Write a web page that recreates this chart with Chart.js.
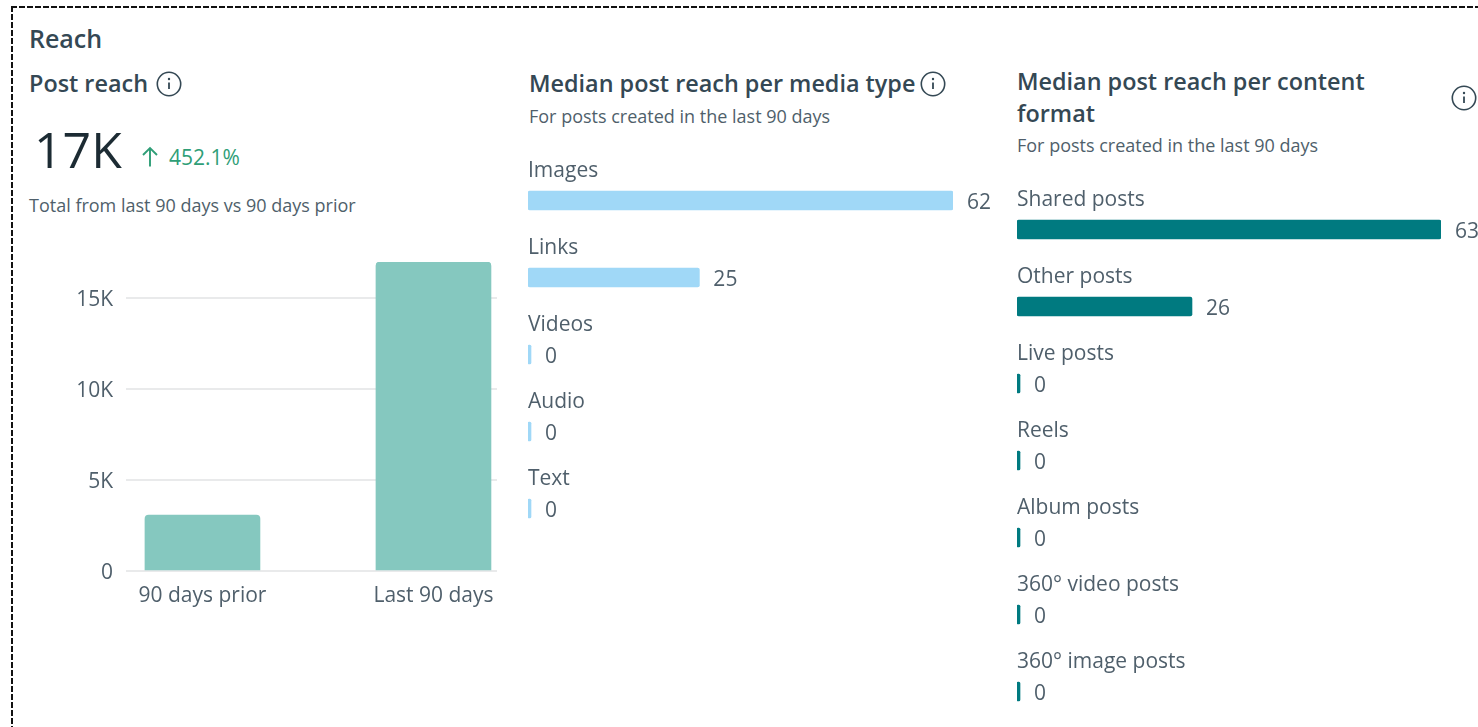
<!DOCTYPE html>
<html><head><meta charset="utf-8">
<script src="https://cdn.jsdelivr.net/npm/chart.js@4"></script>
<style>
html,body{margin:0;padding:0;background:#fff;width:1478px;height:727px;overflow:hidden;font-family:"Open Sans",sans-serif;color:#1c2b33}
#ft{position:absolute;left:11px;top:6px;width:1467px;height:2px;background:repeating-linear-gradient(90deg,#111 0 6px,transparent 6px 8px)}
#fl{position:absolute;left:11px;top:6px;width:2px;height:721px;background:repeating-linear-gradient(180deg,#111 0 6px,transparent 6px 8px)}
.t{position:absolute;white-space:nowrap;line-height:1}
.h{font-size:25px;font-weight:600;color:#344854}
.h2{font-size:23.4px;font-weight:600;color:#344854}
.s{font-size:18px;color:#4f5f6b}
svg.i{position:absolute;width:26px;height:26px}
svg.a{position:absolute}
.c{position:absolute}
</style></head><body>
<div id="ft"></div><div id="fl"></div>
<svg width="0" height="0" style="position:absolute"><defs><g id="info" fill="none" stroke="#344854"><circle cx="13" cy="13" r="11.7" stroke-width="1.6"/><path d="M13 11.5v6.5" stroke-width="1.8"/><circle cx="13" cy="8" r="1.2" fill="#344854" stroke="none"/></g></defs></svg>
<div class="t h" style="left:29px;top:26px">Reach</div>
<div class="t h2" style="left:29px;top:72px">Post reach</div>
<svg class="i" style="left:156px;top:71px"><use href="#info"/></svg>
<div class="t" style="left:34px;top:124px;font-size:50px;color:#1c2b33">17K</div>
<svg class="a" style="left:139px;top:144px" width="22" height="24" fill="none" stroke="#2f9e77" stroke-width="1.9"><path d="M11 22.5V4M4 11l7-7 7 7"/></svg>
<div class="t" style="left:169px;top:147px;font-size:21px;color:#2f9e77">452.1%</div>
<div class="t s" style="left:29px;top:196px">Total from last 90 days vs 90 days prior</div>
<div class="t h2" style="left:529px;top:72px">Median post reach per media type</div>
<svg class="i" style="left:920px;top:71px"><use href="#info"/></svg>
<div class="t s" style="left:529px;top:107px">For posts created in the last 90 days</div>
<div class="t h2" style="left:1017px;top:70px">Median post reach per content</div>
<div class="t h2" style="left:1017px;top:102px">format</div>
<svg class="i" style="left:1451px;top:85px"><use href="#info"/></svg>
<div class="t s" style="left:1017px;top:136px">For posts created in the last 90 days</div>

<div class="c" style="left:60px;top:250px;width:450px;height:370px"><canvas id="c1"></canvas></div>
<div class="c" style="left:520px;top:142px;width:480px;height:405px"><canvas id="c2"></canvas></div>
<div class="c" style="left:1009px;top:171px;width:469px;height:559px"><canvas id="c3"></canvas></div>
<script>
const periodLabels = ["90 days prior", "Last 90 days"];
const periodValues = [3079, 17000];
const yTicks = [0, 5000, 10000, 15000];
const mediaLabels = ["Images", "Links", "Videos", "Audio", "Text"];
const mediaValues = [62, 25, 0, 0, 0];
const formatLabels = ["Shared posts", "Other posts", "Live posts", "Reels", "Album posts", "360° video posts", "360° image posts"];
const formatValues = [63, 26, 0, 0, 0, 0, 0];

const FONT = '"Open Sans", sans-serif';
const TEXT = '#4f5f6b';
Chart.defaults.animation = false;
Chart.defaults.responsive = true;
Chart.defaults.maintainAspectRatio = false;
Chart.defaults.font.family = FONT;
Chart.defaults.plugins.legend.display = false;
Chart.defaults.plugins.tooltip.enabled = false;

const noPad = s => { s.paddingTop = 0; s.paddingBottom = 0; s.paddingLeft = 0; s.paddingRight = 0; };

new Chart(document.getElementById('c1'), {
  type: 'bar',
  data: { datasets: [{
    data: periodValues.map((v, i) => ({ x: i, y: v })),
    backgroundColor: '#85c8bf',
    borderRadius: { topLeft: 4, topRight: 4 },
    borderSkipped: 'bottom',
    barThickness: 115
  }]},
  options: {
    layout: { padding: { top: 12, right: 13, left: 0, bottom: 0 } },
    scales: {
      x: {
        type: 'linear', offset: false, min: -0.331, max: 1.275,
        afterBuildTicks: s => { s.ticks = periodLabels.map((_, i) => ({ value: i })); },
        afterFit: s => { s.height = 49; noPad(s); },
        grid: { display: false },
        border: { display: false },
        ticks: { autoSkip: false, maxRotation: 0, padding: 4, color: TEXT, font: { size: 21 },
                 callback: v => periodLabels[v] }
      },
      y: {
        min: 0, max: 17000,
        afterBuildTicks: s => { s.ticks = yTicks.map(v => ({ value: v })); },
        afterFit: s => { s.width = 66; noPad(s); },
        grid: { color: '#e9eaeb', lineWidth: 2, drawTicks: false },
        border: { display: false },
        ticks: { padding: 13, labelOffset: 2, color: TEXT, font: { size: 21 },
                 callback: v => v === 0 ? '0' : (v / 1000) + 'K' }
      }
    }
  }
});

const valueLabels = {
  id: 'valueLabels',
  afterDatasetsDraw(chart) {
    const ctx = chart.ctx, meta = chart.getDatasetMeta(0), ds = chart.data.datasets[0];
    ctx.save();
    ctx.font = '21px ' + FONT;
    ctx.fillStyle = TEXT;
    ctx.textAlign = 'left';
    ctx.textBaseline = 'middle';
    meta.data.forEach((b, i) => ctx.fillText(String(ds.data[i]), b.x + 14, b.y + 3));
    ctx.restore();
  }
};

function hbar(id, labels, values, color, maxV, padRight) {
  new Chart(document.getElementById(id), {
    type: 'bar',
    data: { labels, datasets: [{
      data: values, backgroundColor: color, borderRadius: 2, borderSkipped: false,
      barThickness: 19, minBarLength: 3
    }]},
    plugins: [valueLabels],
    options: {
      indexAxis: 'y',
      layout: { padding: { left: 8, right: padRight, top: 20, bottom: 0 } },
      scales: {
        x: { min: 0, max: maxV, display: false },
        y: {
          afterFit: s => { s.width = 0; noPad(s); },
          grid: { display: false }, border: { display: false },
          ticks: { mirror: true, padding: 0, labelOffset: -29, color: TEXT, font: { size: 21 }, autoSkip: false }
        }
      }
    }
  });
}
hbar('c2', mediaLabels, mediaValues, '#a0d8f7', 62, 47);
hbar('c3', formatLabels, formatValues, '#007a80', 63, 37);
</script>
</body></html>
